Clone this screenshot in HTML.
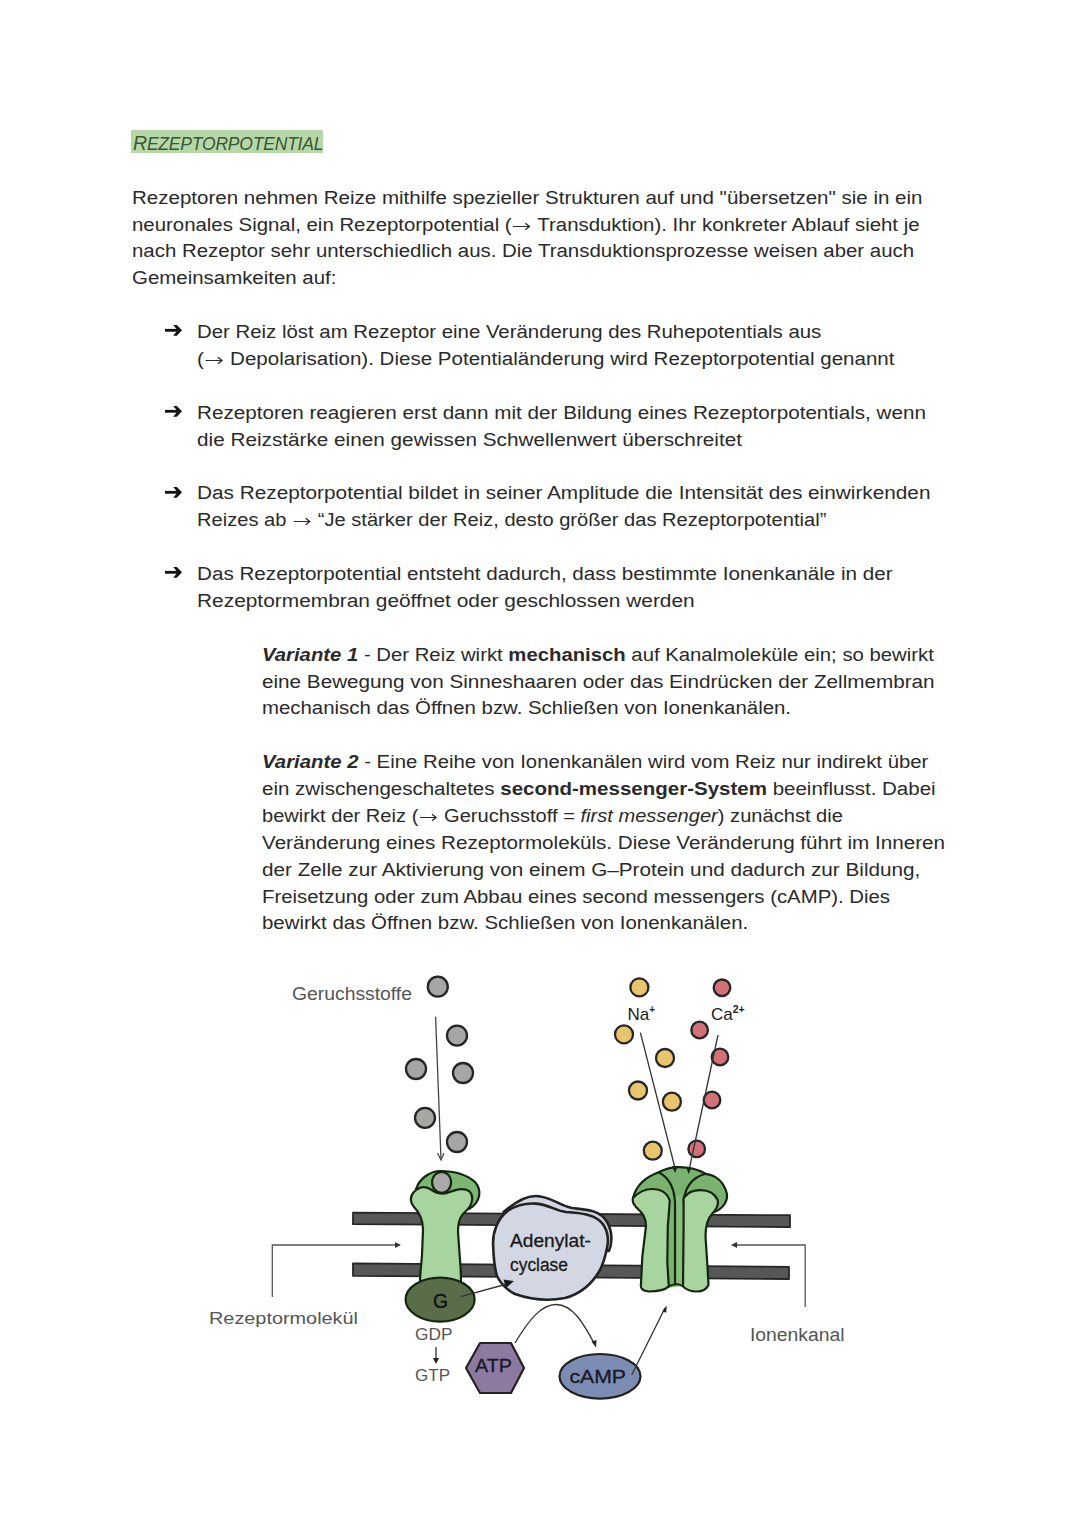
<!DOCTYPE html>
<html><head><meta charset="utf-8">
<style>
html,body{margin:0;padding:0;background:#fff;}
body{width:1080px;height:1525px;position:relative;overflow:hidden;font-family:"Liberation Sans",sans-serif;color:#2a2a2a;}
.ln{position:absolute;white-space:nowrap;font-size:18px;line-height:26.88px;transform-origin:0 50%;}
.ar{position:absolute;width:19px;height:14px;}
.ar svg{display:block}
.ra{display:inline-block;vertical-align:0px;margin:0 1px}
b{font-weight:bold}
.hd{position:absolute;left:130.5px;top:130.3px;width:192.5px;height:22.8px;background:#b6d8a8;}
.hdt{position:absolute;left:133px;top:130px;white-space:nowrap;font-style:italic;color:#22331f;font-size:17px;line-height:23px;letter-spacing:0.3px;}
.hdt span{font-size:13.5px}
svg.dg{position:absolute;left:0;top:0;}
</style></head><body>
<div class="hd"></div>
<svg class="dg" width="1080" height="200"><text x="133" y="149.6" font-family="Liberation Sans, sans-serif" font-style="italic" font-size="17.5" fill="#385636" textLength="190.5" lengthAdjust="spacing"><tspan font-size="19.5">R</tspan>EZEPTORPOTENTIAL</text></svg>
<div class="ln" id="l0" style="left:131.5px;top:184.72px;transform:scaleX(1.1404)">Rezeptoren nehmen Reize mithilfe spezieller Strukturen auf und "übersetzen" sie in ein</div>
<div class="ln" id="l1" style="left:131.5px;top:211.60px;transform:scaleX(1.1325)">neuronales Signal, ein Rezeptorpotential (<svg class="ra" width="16" height="9" viewBox="0 0 16 9"><path d="M0.5 4.5H15M11.3 1.3L15 4.5L11.3 7.7" fill="none" stroke="currentColor" stroke-width="1.15"/></svg> Transduktion). Ihr konkreter Ablauf sieht je</div>
<div class="ln" id="l2" style="left:131.5px;top:238.48px;transform:scaleX(1.1345)">nach Rezeptor sehr unterschiedlich aus. Die Transduktionsprozesse weisen aber auch</div>
<div class="ln" id="l3" style="left:131.5px;top:265.36px;transform:scaleX(1.1352)">Gemeinsamkeiten auf:</div>
<div class="ln" id="l4" style="left:196.7px;top:319.12px;transform:scaleX(1.1324)">Der Reiz löst am Rezeptor eine Veränderung des Ruhepotentials aus</div>
<div class="ln" id="l5" style="left:196.7px;top:346.00px;transform:scaleX(1.1408)">(<svg class="ra" width="16" height="9" viewBox="0 0 16 9"><path d="M0.5 4.5H15M11.3 1.3L15 4.5L11.3 7.7" fill="none" stroke="currentColor" stroke-width="1.15"/></svg> Depolarisation). Diese Potentialänderung wird Rezeptorpotential genannt</div>
<div class="ln" id="l6" style="left:196.7px;top:399.76px;transform:scaleX(1.1472)">Rezeptoren reagieren erst dann mit der Bildung eines Rezeptorpotentials, wenn</div>
<div class="ln" id="l7" style="left:196.7px;top:426.64px;transform:scaleX(1.1516)">die Reizstärke einen gewissen Schwellenwert überschreitet</div>
<div class="ln" id="l8" style="left:196.7px;top:480.40px;transform:scaleX(1.1544)">Das Rezeptorpotential bildet in seiner Amplitude die Intensität des einwirkenden</div>
<div class="ln" id="l9" style="left:196.7px;top:507.28px;transform:scaleX(1.1174)">Reizes ab <svg class="ra" width="16" height="9" viewBox="0 0 16 9"><path d="M0.5 4.5H15M11.3 1.3L15 4.5L11.3 7.7" fill="none" stroke="currentColor" stroke-width="1.15"/></svg> “Je stärker der Reiz, desto größer das Rezeptorpotential”</div>
<div class="ln" id="l10" style="left:196.7px;top:561.04px;transform:scaleX(1.1472)">Das Rezeptorpotential entsteht dadurch, dass bestimmte Ionenkanäle in der</div>
<div class="ln" id="l11" style="left:196.7px;top:587.92px;transform:scaleX(1.1603)">Rezeptormembran geöffnet oder geschlossen werden</div>
<div class="ln" id="l12" style="left:261.8px;top:641.68px;transform:scaleX(1.1279)"><b><i>Variante 1</i></b> - Der Reiz wirkt <b>mechanisch</b> auf Kanalmoleküle ein; so bewirkt</div>
<div class="ln" id="l13" style="left:261.8px;top:668.56px;transform:scaleX(1.1490)">eine Bewegung von Sinneshaaren oder das Eindrücken der Zellmembran</div>
<div class="ln" id="l14" style="left:261.8px;top:695.44px;transform:scaleX(1.1329)">mechanisch das Öffnen bzw. Schließen von Ionenkanälen.</div>
<div class="ln" id="l15" style="left:261.8px;top:749.20px;transform:scaleX(1.1301)"><b><i>Variante 2</i></b> - Eine Reihe von Ionenkanälen wird vom Reiz nur indirekt über</div>
<div class="ln" id="l16" style="left:261.8px;top:776.08px;transform:scaleX(1.1392)">ein zwischengeschaltetes <b>second-messenger-System</b> beeinflusst. Dabei</div>
<div class="ln" id="l17" style="left:261.8px;top:802.96px;transform:scaleX(1.1163)">bewirkt der Reiz (<svg class="ra" width="16" height="9" viewBox="0 0 16 9"><path d="M0.5 4.5H15M11.3 1.3L15 4.5L11.3 7.7" fill="none" stroke="currentColor" stroke-width="1.15"/></svg> Geruchsstoff = <i>first messenger</i>) zunächst die</div>
<div class="ln" id="l18" style="left:261.8px;top:829.84px;transform:scaleX(1.1472)">Veränderung eines Rezeptormoleküls. Diese Veränderung führt im Inneren</div>
<div class="ln" id="l19" style="left:261.8px;top:856.72px;transform:scaleX(1.1503)">der Zelle zur Aktivierung von einem G–Protein und dadurch zur Bildung,</div>
<div class="ln" id="l20" style="left:261.8px;top:883.60px;transform:scaleX(1.1311)">Freisetzung oder zum Abbau eines second messengers (cAMP). Dies</div>
<div class="ln" id="l21" style="left:261.8px;top:910.48px;transform:scaleX(1.1362)">bewirkt das Öffnen bzw. Schließen von Ionenkanälen.</div>
<div class="ar" style="left:164px;top:324.30px"><svg width="19" height="14" viewBox="0 0 19 14"><path d="M1 4.9H14V7.7H1Z" fill="#111"/><path d="M9.2 1L12.8 1L18 6.3L12.8 11.8L9.2 11.8L13.6 6.3Z" fill="#111"/></svg></div>
<div class="ar" style="left:164px;top:404.94px"><svg width="19" height="14" viewBox="0 0 19 14"><path d="M1 4.9H14V7.7H1Z" fill="#111"/><path d="M9.2 1L12.8 1L18 6.3L12.8 11.8L9.2 11.8L13.6 6.3Z" fill="#111"/></svg></div>
<div class="ar" style="left:164px;top:485.58px"><svg width="19" height="14" viewBox="0 0 19 14"><path d="M1 4.9H14V7.7H1Z" fill="#111"/><path d="M9.2 1L12.8 1L18 6.3L12.8 11.8L9.2 11.8L13.6 6.3Z" fill="#111"/></svg></div>
<div class="ar" style="left:164px;top:566.22px"><svg width="19" height="14" viewBox="0 0 19 14"><path d="M1 4.9H14V7.7H1Z" fill="#111"/><path d="M9.2 1L12.8 1L18 6.3L12.8 11.8L9.2 11.8L13.6 6.3Z" fill="#111"/></svg></div>
<svg class="dg" width="1080" height="1525" viewBox="0 0 1080 1525">
<defs>
<marker id="ah" viewBox="0 0 10 10" refX="9" refY="5" markerWidth="7" markerHeight="7" orient="auto-start-reverse" markerUnits="userSpaceOnUse"><path d="M0 1L10 5L0 9z" fill="#333"/></marker>
</defs>
<g font-family="Liberation Sans, sans-serif">
<!-- labels -->
<text x="292" y="999.5" font-size="18" fill="#555" textLength="120" lengthAdjust="spacingAndGlyphs">Geruchsstoffe</text>
<text x="209" y="1324" font-size="17" fill="#555" textLength="149" lengthAdjust="spacingAndGlyphs">Rezeptormolekül</text>
<text x="750" y="1340.7" font-size="18" fill="#555" textLength="94.5" lengthAdjust="spacingAndGlyphs">Ionenkanal</text>
<text x="415" y="1340" font-size="17" fill="#555" textLength="37.5" lengthAdjust="spacingAndGlyphs">GDP</text>
<text x="415" y="1381" font-size="17" fill="#555" textLength="35" lengthAdjust="spacingAndGlyphs">GTP</text>
<text x="627.5" y="1019.5" font-size="17" fill="#1a1a1a">Na<tspan font-size="10" font-weight="bold" dy="-7">+</tspan></text>
<text x="711" y="1019.5" font-size="17" fill="#1a1a1a">Ca<tspan font-size="10.5" font-weight="bold" dy="-7">2+</tspan></text>

<!-- odorant balls -->
<g fill="#a6a6a4" stroke="#262626" stroke-width="2.3">
<circle cx="437.8" cy="986.7" r="10"/>
<circle cx="457" cy="1035.6" r="10"/>
<circle cx="416" cy="1069" r="10"/>
<circle cx="463" cy="1073" r="10"/>
<circle cx="425" cy="1117.8" r="10"/>
<circle cx="457" cy="1142" r="10"/>
</g>
<!-- odorant arrow -->
<line x1="435.6" y1="1016.7" x2="441" y2="1159" stroke="#444" stroke-width="1.3"/>
<path d="M437.5 1153L441 1160L444 1153" fill="none" stroke="#444" stroke-width="1.2"/>

<!-- Na / Ca balls -->
<g fill="#e8c56c" stroke="#262626" stroke-width="2.3">
<circle cx="639.4" cy="987.4" r="9"/>
<circle cx="624" cy="1034.4" r="9"/>
<circle cx="665" cy="1058" r="9"/>
<circle cx="638" cy="1090.5" r="9"/>
<circle cx="671.9" cy="1101.7" r="9"/>
<circle cx="652.8" cy="1150.7" r="9"/>
</g>
<g fill="#d37078" stroke="#262626" stroke-width="2.3">
<circle cx="722" cy="987.8" r="8.3"/>
<circle cx="699.6" cy="1030" r="8.3"/>
<circle cx="720" cy="1057" r="8.3"/>
<circle cx="712" cy="1100" r="8.3"/>
<circle cx="696.7" cy="1148.9" r="8.3"/>
</g>
<line x1="640.4" y1="1032.6" x2="675" y2="1168" stroke="#333" stroke-width="1.3"/>
<line x1="718" y1="1035" x2="689.5" y2="1168" stroke="#333" stroke-width="1.3"/>

<!-- membrane -->
<g fill="#575757" stroke="#262626" stroke-width="1.8" stroke-linejoin="round">
<path d="M353 1212.6L790 1215.2L790 1227L353 1224.2Z"/>
<path d="M353 1263.3L789 1266.8L789 1279L353 1275.8Z"/>
</g>

<!-- side arrows -->
<path d="M272.3 1297V1245H398" fill="none" stroke="#555" stroke-width="1.3"/>
<path d="M395 1242L401 1245L395 1248z" fill="#333"/>
<path d="M805.2 1307V1245H735" fill="none" stroke="#555" stroke-width="1.3"/>
<path d="M737 1242L731 1245L737 1248z" fill="#333"/>

<!-- receptor -->
<g stroke="#13260f" stroke-width="2.2" stroke-linejoin="round">
<path d="M416 1189C420 1177 432 1171 440 1171C452 1171 466 1174 475 1182C482 1190 481 1202 469 1209L462 1200Z" fill="#7db575"/>
<path d="M413 1193C419 1186 425 1186 430 1189C436 1193 441 1195 447 1193C455 1190 463 1187 469 1191C474 1195 473 1204 467 1210C461 1215 458 1220 458 1232L460 1260C461 1270 461 1276 461 1282L420 1282C420 1275 421 1268 422 1255L423 1230C423 1220 420 1213 414 1207C410 1203 410 1197 413 1193Z" fill="#a8d49f"/>
<ellipse cx="441.6" cy="1182.3" rx="9.5" ry="10.5" fill="#a9a9a7"/>
<ellipse cx="440.1" cy="1299.6" rx="34.5" ry="22" fill="#596d4b"/>
</g>
<text x="440.5" y="1307.5" font-size="20" fill="#111" stroke="#111" stroke-width="0.4" text-anchor="middle" textLength="15" lengthAdjust="spacingAndGlyphs">G</text>

<!-- adenylatcyclase -->
<g stroke="#222" stroke-width="2.6" stroke-linejoin="round">
<path d="M503.6 1212C515 1202 525 1196 536 1196C550 1196 560 1206 572 1208C588 1210 600 1210 607 1222C613 1232 612 1244 609 1251L560 1250Z" fill="#d3d7e3"/>
<path d="M493.2 1246.7C492 1232 498 1218 508 1210.6C518 1204 528 1203 536 1203.6C550 1205 556 1211 566 1212C580 1213 592 1214 600 1221C608 1228 609 1240 607 1248C605 1258 603 1264 600 1270C592 1284 580 1294 565 1298C550 1301 532 1300 515 1294C505 1289 500 1282 497 1276C494 1266 493.5 1256 493.2 1246.7Z" fill="#d3d7e3"/>
</g>
<text x="510" y="1246.7" font-size="18" fill="#1a1a1a" stroke="#1a1a1a" stroke-width="0.3" textLength="81" lengthAdjust="spacingAndGlyphs">Adenylat-</text>
<text x="510" y="1271" font-size="18" fill="#1a1a1a" stroke="#1a1a1a" stroke-width="0.3" textLength="58" lengthAdjust="spacingAndGlyphs">cyclase</text>

<line x1="460.8" y1="1296.6" x2="507" y2="1284" stroke="#333" stroke-width="1.3"/>
<path d="M503.5 1279.5L514 1281L506 1288Z" fill="#1a1a1a"/>
<!-- ion channel -->
<path d="M633.1 1197.8C636 1186 646 1177 658.6 1172.3C665 1169 672 1167.2 679 1167.2C690 1167.2 699 1170 705.5 1173.8C716 1175 724 1182 726.9 1193.7C728 1200 724 1208 714.6 1212L684 1212L668 1212Z" fill="#7bb271" stroke="#13260f" stroke-width="2.2" stroke-linejoin="round"/>
<path d="M666 1196L684 1196L684 1286L666 1288Z" fill="#88bd7f"/>
<path d="M664 1196L675 1196L675 1286L664 1288Z" fill="#7bb271"/>
<g fill="none" stroke="#13260f" stroke-width="2.2" stroke-linecap="round">
<path d="M658.6 1172.3C668 1177 674 1186 675 1202L675 1284.4"/>
<path d="M705.5 1173.8C694 1177 685 1186 683.5 1202"/>
</g>
<g stroke="#13260f" stroke-width="2.2" stroke-linejoin="round">
<path d="M633.1 1197.8C640 1191 646 1189 652 1189C660 1189 667 1192 669.8 1200.8L667.8 1226.3L667.3 1262L668.8 1286.4C665 1290 657 1291.5 649 1291.5C643 1291 640 1289 641 1284L642.3 1256.9L646 1226C646 1216 641 1212 636 1207C633 1204 632 1201 633.1 1197.8Z" fill="#a8d49f"/>
<path d="M683.6 1198C688 1192 694 1190 700.4 1190.1C708 1190 714 1192 717.7 1200C719 1206 716 1210 712 1214C707 1219 705.5 1226 705.5 1236.5L707.5 1267L708.5 1285C706 1290 702 1291.5 697 1291.5C690 1291.5 686 1290 683 1286.4L683.6 1226Z" fill="#a8d49f"/>
</g>
<path d="M668.5 1286.5C672 1285 675 1284 676 1284C679 1284 681 1285 683.5 1286.5" fill="none" stroke="#13260f" stroke-width="2"/>
<path d="M672 1166L675 1173L678 1166Z M686 1167L688.7 1174L691.5 1167Z" fill="#13260f"/>
<!-- ATP hexagon -->
<path d="M480 1343H511L524 1368L511 1393H480L466 1368Z" fill="#8d7aa0" stroke="#222" stroke-width="2.2" stroke-linejoin="round"/>
<text x="475" y="1371.6" font-size="18.5" fill="#1a1a2a" stroke="#1a1a2a" stroke-width="0.35" textLength="37" lengthAdjust="spacingAndGlyphs">ATP</text>
<!-- cAMP -->
<ellipse cx="600" cy="1376.3" rx="40.5" ry="22.3" fill="#7d8cb3" stroke="#222" stroke-width="2.2"/>
<text x="569.5" y="1383" font-size="18.5" fill="#1a1a2a" stroke="#1a1a2a" stroke-width="0.35" textLength="56.5" lengthAdjust="spacingAndGlyphs">cAMP</text>
<!-- curve ATP -> cAMP -->
<path d="M515 1343C530 1318 542 1304.5 556 1304.5C572 1304.5 583 1322 594.5 1344" fill="none" stroke="#333" stroke-width="1.3"/>
<path d="M591.5 1341.5L596 1347.5L596.5 1340Z" fill="#222"/>
<!-- cAMP -> channel -->
<line x1="631.7" y1="1375" x2="665" y2="1308" stroke="#333" stroke-width="1.3"/>
<path d="M662.5 1311.5L666.7 1305.5L666.3 1312.8Z" fill="#222"/>
<!-- GDP->GTP arrow -->
<line x1="436" y1="1347" x2="436" y2="1362" stroke="#333" stroke-width="1.3"/>
<path d="M433 1358L436 1364L439 1358Z" fill="#222"/>
</g>
</svg>

</body></html>
